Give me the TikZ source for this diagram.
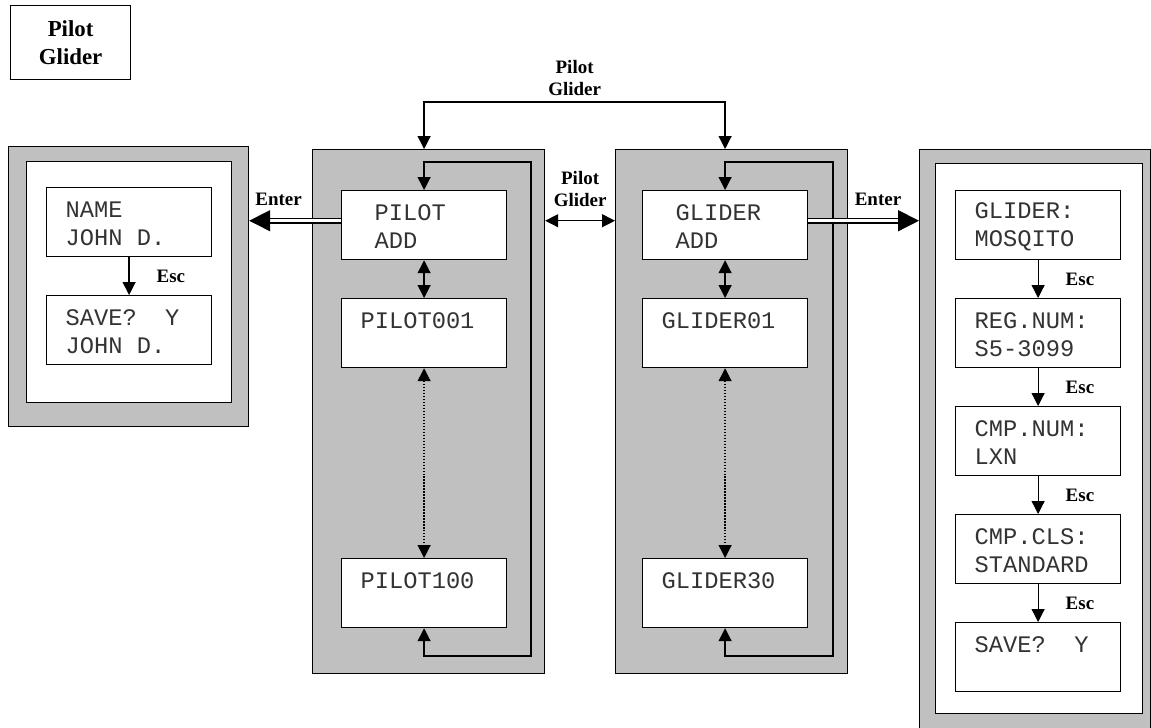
\documentclass[tikz,border=0pt]{standalone}
\usepackage{fontspec}
\setmainfont{Liberation Serif}
\setmonofont{Liberation Mono}
\usetikzlibrary{arrows.meta}
\definecolor{panelgray}{RGB}{192,192,192}

\begin{document}
\begin{tikzpicture}[x=0.02cm,y=-0.02cm,line width=0.7pt,
	panel/.style={draw,fill=panelgray,anchor=north west,inner sep=0pt},
	innerbox/.style={draw,fill=white,anchor=north west,inner sep=0pt},
	screen/.style={draw,fill=white,text=black!80,anchor=north west,minimum width=3.3cm,minimum height=1.38cm,
		inner xsep=0.38cm,inner ysep=0pt,text width=2.54cm,align=flush left,
		font=\ttfamily\fontsize{13.5}{15.9}\selectfont,execute at begin node={\rule{0pt}{0.38cm}}},
	screenadd/.style={screen,inner xsep=0.66cm,text width=1.98cm},
	lbl/.style={font=\bfseries\fontsize{10.8}{12.5}\selectfont,align=center,inner sep=0pt},
	esclbl/.style={lbl,midway,right=0.54cm},
	arr/.style={-{Triangle[length=7.4pt,width=7.4pt]}},
	darr/.style={{Triangle[length=7.4pt,width=7.4pt]}-{Triangle[length=7.4pt,width=7.4pt]}},
	enterarr/.style={double,double distance=2pt,line width=0.8pt,-{Triangle[length=11.9pt,width=11.9pt]}}]
	\useasboundingbox (0,0) rectangle (1151,727);
	\node[draw,anchor=north west,minimum width=2.4cm,minimum height=1.48cm,align=center,
		font=\bfseries\fontsize{13}{16.4}\selectfont] (key) at (10,5) {Pilot\\Glider};

	\node[panel,minimum width=4.8cm,minimum height=5.6cm] (lpanel) at (8,146) {};
	\node[innerbox,minimum width=4.1cm,minimum height=4.82cm] (lin) at (26,161) {};
	\node[screen] (name) at (46,187) {NAME\\JOHN D.};
	\node[screen] (lsave) at (46,295) {SAVE?~~Y\\JOHN D.};

	\node[panel,minimum width=4.64cm,minimum height=10.48cm] (ppanel) at (312,149) {};
	\node[screenadd] (padd) at (341,190) {PILOT\\ADD};
	\node[screen] (p001) at (341,298) {PILOT001\\~};
	\node[screen] (p100) at (341,558) {PILOT100\\~};

	\node[panel,minimum width=4.64cm,minimum height=10.48cm] (gpanel) at (615,149) {};
	\node[screenadd] (gadd) at (642,190) {GLIDER\\ADD};
	\node[screen] (g01) at (642,298) {GLIDER01\\~};
	\node[screen] (g30) at (642,558) {GLIDER30\\~};

	\node[panel,minimum width=4.62cm,minimum height=11.8cm] (rpanel) at (919,149) {};
	\node[innerbox,minimum width=4.14cm,minimum height=11cm] (rin) at (935,163) {};
	\node[screen] (rglider) at (955,190) {GLIDER:\\MOSQITO};
	\node[screen] (rreg) at (955,298) {REG.NUM:\\S5-3099};
	\node[screen] (rnum) at (955,406) {CMP.NUM:\\LXN};
	\node[screen] (rcls) at (955,514) {CMP.CLS:\\STANDARD};
	\node[screen] (rsave) at (955,622) {SAVE?~~Y\\~};

	\coordinate (pe) at ([yshift=2.5pt]padd.west);
	\coordinate (ge) at ([yshift=2.5pt]gadd.east);

	\draw[arr] (name.south) -- (lsave.north) node[esclbl]{Esc};
	\foreach \a/\b in {rglider/rreg,rreg/rnum,rnum/rcls,rcls/rsave}
		\draw[arr] (\a.south) -- (\b.north) node[esclbl]{Esc};

	\draw[darr] (padd.south) -- (p001.north);
	\draw[darr,densely dotted] (p001.south) -- (p100.north);
	\draw[darr] (p100.south) |- (531,656) -- (531,162) -| (padd.north);
	\draw[darr] (gadd.south) -- (g01.north);
	\draw[darr,densely dotted] (g01.south) -- (g30.north);
	\draw[darr] (g30.south) |- (833,656) -- (833,162) -| (gadd.north);

	\draw[darr] (padd |- ppanel.north) -- ++(0,-47) -| (gadd |- gpanel.north)
		node[lbl,pos=0.25,above=0.12cm]{Pilot\\Glider};
	\draw[darr] (pe -| ppanel.east) -- (pe -| gpanel.west)
		node[lbl,midway,above=0.26cm]{Pilot\\Glider};
	\draw[enterarr] (pe) -- (pe -| lpanel.east) node[lbl,pos=0.68,above=0.28cm]{Enter};
	\draw[enterarr] (ge) -- (ge -| rpanel.west) node[lbl,pos=0.63,above=0.28cm]{Enter};
\end{tikzpicture}
\end{document}
